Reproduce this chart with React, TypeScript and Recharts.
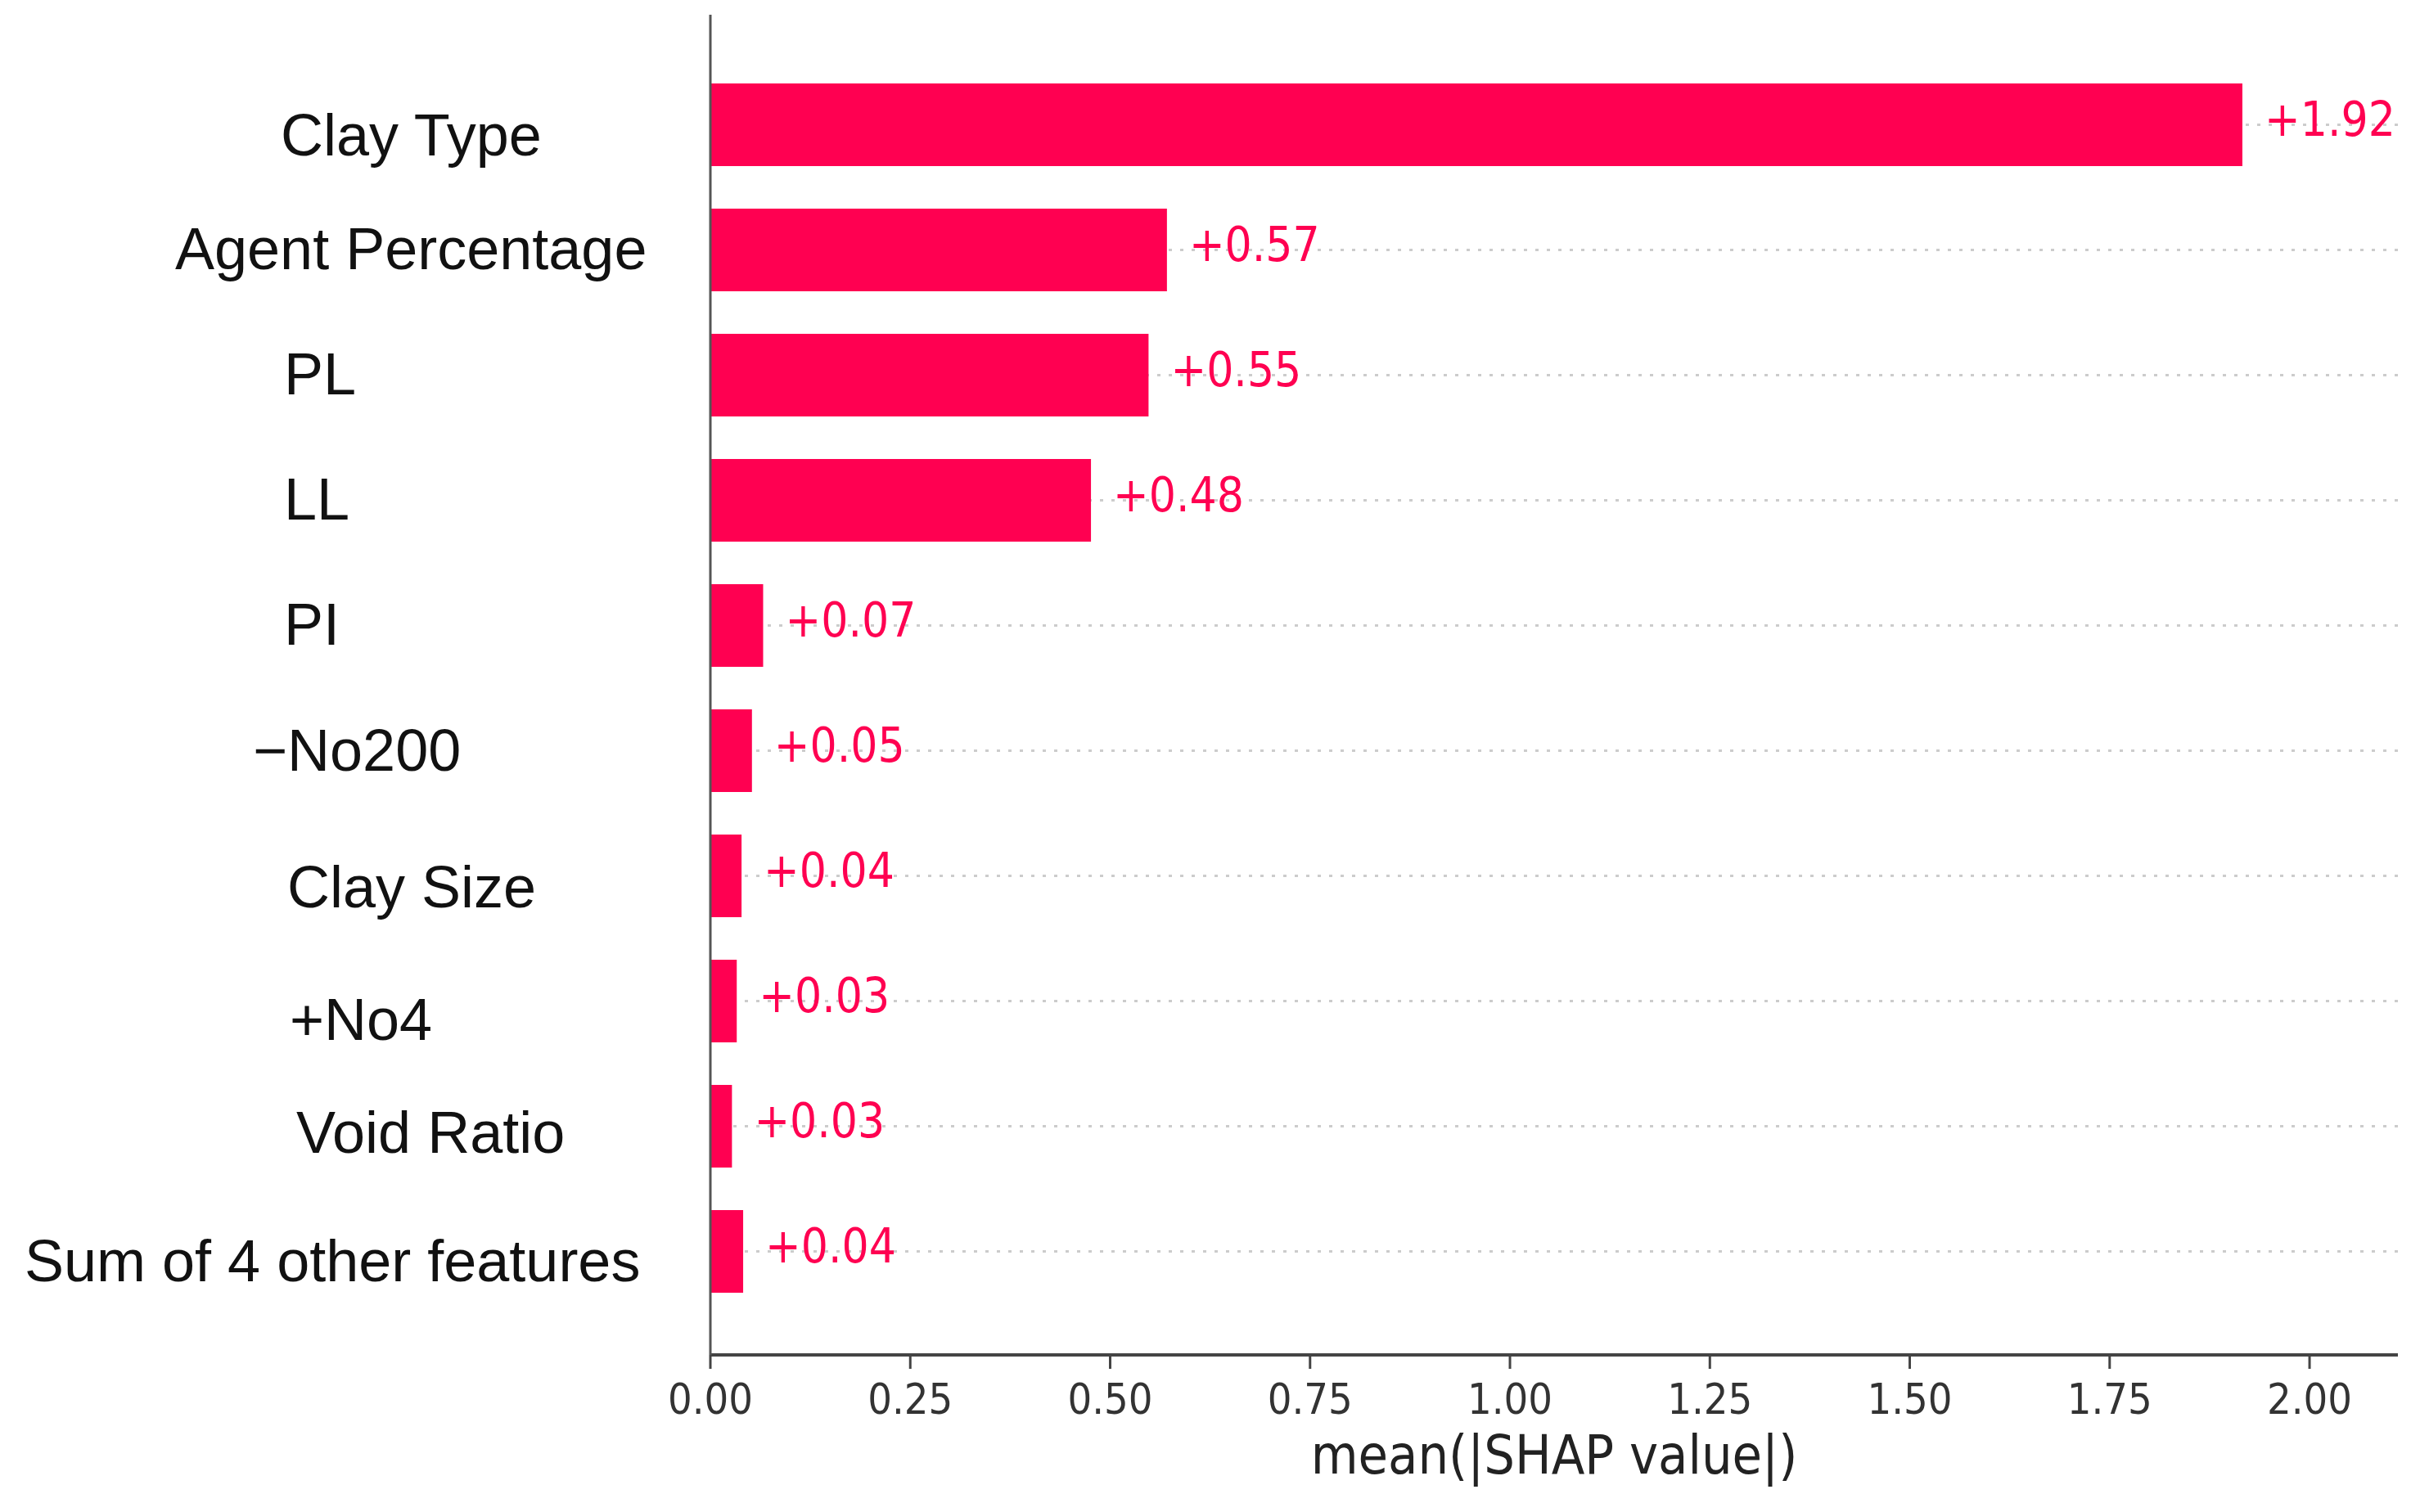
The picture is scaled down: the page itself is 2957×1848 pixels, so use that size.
import React from 'react';
import { BarChart, Bar, XAxis, YAxis, CartesianGrid, LabelList } from 'recharts';

const features = [
  'Clay Type',
  'Agent Percentage',
  'PL',
  'LL',
  'PI',
  '\u2212No200',
  'Clay Size',
  '+No4',
  'Void Ratio',
  'Sum of 4 other features',
];
const meanShap = [1.916, 0.571, 0.548, 0.476, 0.066, 0.052, 0.039, 0.033, 0.027, 0.041];
const xTicks = [0, 0.25, 0.5, 0.75, 1.0, 1.25, 1.5, 1.75, 2.0];

const data = features.map((name, i) => ({ name, value: meanShap[i] }));

const RED = '#ff0051';
const CONDENSED = "'DejaVu Sans Condensed', 'DejaVu Sans', sans-serif";
const PAD_TOP = 58;
const PAD_BOTTOM = 50;

// the feature names in the source sit a little off the usual right-aligned spot
const labelPlacement: Record<string, { left: number; dy: number }> = {
  'Clay Type': { left: 335, dy: 12 },
  'Agent Percentage': { left: 206, dy: -2 },
  PL: { left: 339, dy: -2 },
  LL: { left: 339, dy: -2 },
  PI: { left: 339, dy: -2 },
  '\u2212No200': { left: 301, dy: -1 },
  'Clay Size': { left: 343, dy: 13 },
  '+No4': { left: 346, dy: 22 },
  'Void Ratio': { left: 354, dy: 7 },
  'Sum of 4 other features': { left: 22, dy: 11 },
};

const FeatureTick = (props: any) => {
  const { y, payload } = props;
  const p = labelPlacement[payload.value] || { left: 300, dy: 0 };
  return (
    <text
      x={p.left}
      y={y + p.dy}
      dy="0.36em"
      textAnchor="start"
      fontFamily="'Liberation Sans', Arial, sans-serif"
      fontSize={72}
      fill="#111"
    >
      {payload.value}
    </text>
  );
};

const ValueLabel = (props: any) => {
  const { x, y, width, height, value } = props;
  return (
    <text
      x={x + width + 27}
      y={y + height / 2 - 7}
      dy="0.36em"
      textAnchor="start"
      fontFamily={CONDENSED}
      fontSize={58}
      fill={RED}
    >
      {'+' + Number(value).toFixed(2)}
    </text>
  );
};

// dotted guide line through the middle of every feature row
const rowCentres = ({ offset }: any) => {
  const band = (offset.height - PAD_TOP - PAD_BOTTOM) / features.length;
  return features.map((_, i) => offset.top + PAD_TOP + band * (i + 0.5));
};

const App: React.FC = () => {
  return (
    <div style={{ width: 2949, height: 1832, background: '#fff' }}>
      <BarChart
        width={2949}
        height={1832}
        data={data}
        layout="vertical"
        margin={{ top: 10, right: 27, bottom: 0, left: 0 }}
        barSize={101}
      >
        <CartesianGrid
          horizontal={true}
          vertical={false}
          stroke="#cccccc"
          strokeWidth={3}
          strokeDasharray="4 10"
          horizontalCoordinatesGenerator={rowCentres}
        />
        <XAxis
          type="number"
          domain={[0, 2.1105]}
          ticks={xTicks}
          tickFormatter={(v: number) => v.toFixed(2)}
          allowDataOverflow
          height={184}
          axisLine={{ stroke: '#444', strokeWidth: 4 }}
          tickLine={{ stroke: '#444', strokeWidth: 3 }}
          tickSize={17}
          tickMargin={18}
          tick={{ fontFamily: CONDENSED, fontSize: 52, fill: '#333' }}
          label={{
            value: 'mean(|SHAP value|)',
            position: 'insideBottom',
            offset: 39,
            fontFamily: CONDENSED,
            fontSize: 66,
            fill: '#222',
          }}
        />
        <YAxis
          type="category"
          dataKey="name"
          width={860}
          padding={{ top: PAD_TOP, bottom: PAD_BOTTOM }}
          axisLine={{ stroke: '#555', strokeWidth: 3 }}
          tickLine={false}
          tick={<FeatureTick />}
          interval={0}
        />
        <Bar dataKey="value" fill={RED} isAnimationActive={false}>
          <LabelList dataKey="value" content={<ValueLabel />} />
        </Bar>
      </BarChart>
    </div>
  );
};

export default App;
